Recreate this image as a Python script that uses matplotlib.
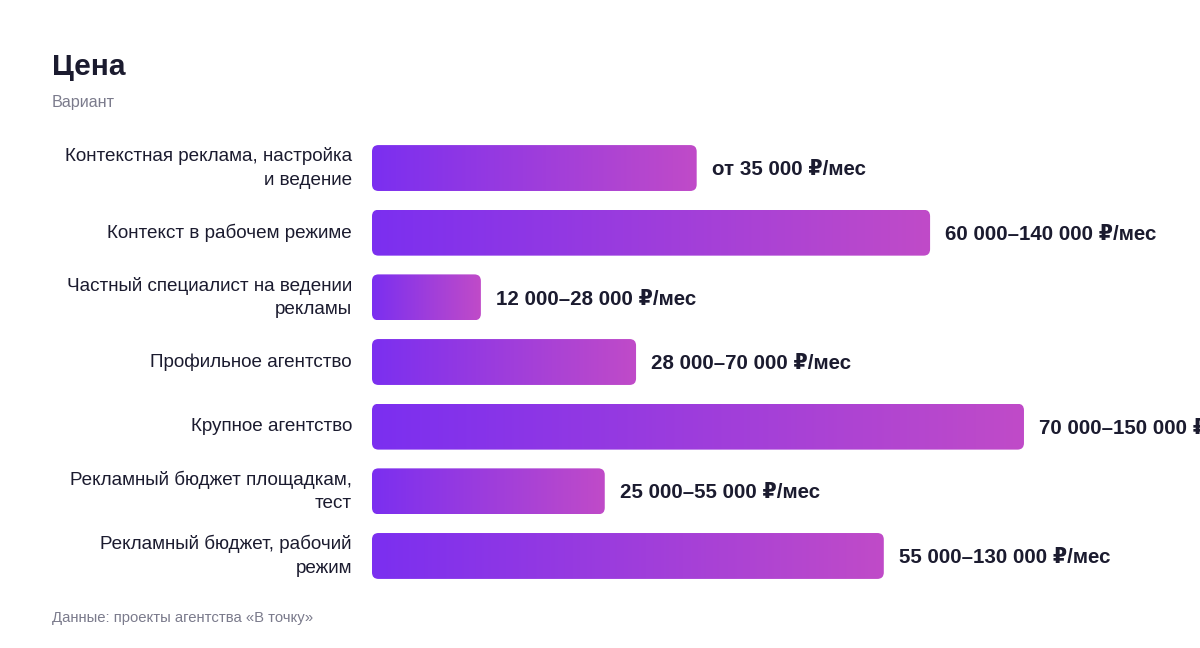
import matplotlib
matplotlib.use("Agg")
import matplotlib.pyplot as plt
import numpy as np
from matplotlib.patches import FancyBboxPatch
from matplotlib.colors import LinearSegmentedColormap

plt.rcParams['font.family'] = ['Liberation Sans', 'DejaVu Sans']

categories = [
    "Контекстная реклама, настройка\nи ведение",
    "Контекст в рабочем режиме",
    "Частный специалист на ведении\nрекламы",
    "Профильное агентство",
    "Крупное агентство",
    "Рекламный бюджет площадкам,\nтест",
    "Рекламный бюджет, рабочий\nрежим",
]
# relative bar length (index, largest = 100)
values = [49.8, 85.6, 16.7, 40.5, 100.0, 35.7, 78.5]
value_labels = [
    "от 35 000 ₽/мес",
    "60 000–140 000 ₽/мес",
    "12 000–28 000 ₽/мес",
    "28 000–70 000 ₽/мес",
    "70 000–150 000 ₽/мес",
    "25 000–55 000 ₽/мес",
    "55 000–130 000 ₽/мес",
]
title = "Цена"
subtitle = "Вариант"
source = "Данные: проекты агентства «В точку»"

DARK = "#1b1b2f"
GRAY = "#7b7b8c"
C_LEFT = "#7b2ff0"
C_RIGHT = "#c04bc8"

W, H = 1200, 648
fig = plt.figure(figsize=(W / 100, H / 100), dpi=100)
fig.patch.set_facecolor("white")

ax_left, ax_right = 372, 1200
ax_top, ax_bot = 135.7, 588.3
ax = fig.add_axes([ax_left / W, (H - ax_bot) / H, (ax_right - ax_left) / W, (ax_bot - ax_top) / H])
ax.set_axis_off()
xmax = 127.0
ax.set_xlim(0, xmax)
ax.set_ylim(len(categories) - 0.5, -0.5)

px_per_x = (ax_right - ax_left) / xmax
px_per_y = (ax_bot - ax_top) / len(categories)
radius_px = 6.5
bar_h = 0.71

cmap = LinearSegmentedColormap.from_list("g", [C_LEFT, C_RIGHT])
grad = np.linspace(0, 1, 256).reshape(1, -1)

for i, (cat, v, lab) in enumerate(zip(categories, values, value_labels)):
    y0 = i - bar_h / 2
    patch = FancyBboxPatch((0, y0), v, bar_h,
                           boxstyle=f"round,pad=0,rounding_size={radius_px / px_per_x}",
                           mutation_aspect=px_per_x / px_per_y,
                           facecolor="none", edgecolor="none")
    ax.add_patch(patch)
    im = ax.imshow(grad, cmap=cmap, extent=(0, v, i + bar_h / 2, y0),
                   aspect="auto", interpolation="bicubic", zorder=2)
    im.set_clip_path(patch)
    ax.annotate(lab, xy=(v, i), xytext=(11, -1.2), textcoords="offset points",
                ha="left", va="center", fontsize=14.8, fontweight="bold",
                color=DARK, annotation_clip=False, clip_on=False)
    ax.annotate(cat, xy=(0, i), xytext=(-14.4, 0), textcoords="offset points",
                ha="right", va="center", fontsize=13.6, color=DARK,
                linespacing=1.5, annotation_clip=False)

ax.set_xlim(0, xmax)
ax.set_ylim(len(categories) - 0.5, -0.5)

fig.text(52 / W, 1 - 67 / H, title, fontsize=21.5, fontweight="bold", color=DARK,
         ha="left", va="center")
fig.text(52 / W, 1 - 103 / H, subtitle, fontsize=11.6, color=GRAY,
         ha="left", va="center")
fig.text(52 / W, 1 - 618 / H, source, fontsize=10.7, color=GRAY,
         ha="left", va="center")

fig.savefig("out.png", dpi=100, facecolor="white")
